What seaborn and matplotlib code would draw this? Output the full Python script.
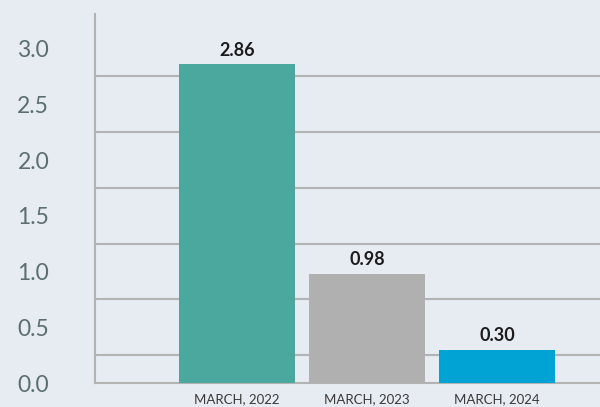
import matplotlib
matplotlib.use("Agg")
import matplotlib.pyplot as plt
import seaborn as sns
import pandas as pd
import numpy as np
from matplotlib.ticker import FixedLocator

categories = ["MARCH, 2022", "MARCH, 2023", "MARCH, 2024"]
values = [2.86, 0.98, 0.30]
colors = ["#4aa89f", "#afb0af", "#00a3d4"]
y_ticks = [0.0, 0.5, 1.0, 1.5, 2.0, 2.5, 3.0]
y_tick_labels = ["0.0", "0.5", "1.0", "1.5", "2.0", "2.5", "3.0"]
grid_positions = [0.25, 0.75, 1.25, 1.75, 2.25, 2.75]

bg = "#e7ebf2"
sns.set_theme(style="white")
plt.rcParams['font.family'] = ['Lato', 'DejaVu Sans']

df = pd.DataFrame({"cat": categories, "val": values})

fig = plt.figure(figsize=(6, 4.07), dpi=100, facecolor=bg)
ax = fig.add_axes([95/600, 24/407, 505/600, 369/407])
ax.set_facecolor(bg)

sns.barplot(data=df, x="cat", y="val", hue="cat", palette=colors, legend=False,
            width=0.89, saturation=1, linewidth=0, edgecolor="none", ax=ax, zorder=3)

ax.set_xlim(-1.092, 2.79)
ax.set_ylim(0, 3.31)
ax.set_xlabel("")
ax.set_ylabel("")

ax.set_yticks(y_ticks)
ax.set_yticklabels(y_tick_labels)
ax.yaxis.set_minor_locator(FixedLocator(grid_positions))
for g in grid_positions:
    ax.axhline(g, color="#b3b3b3", lw=1.5, zorder=1)

ax.tick_params(axis="y", which="both", length=0, pad=33, labelsize=16.5, labelcolor="#5b6f70")
ax.tick_params(axis="x", length=0, pad=7, labelsize=9.5, labelcolor="#3a3a3a")

for s in ["top", "right"]:
    ax.spines[s].set_visible(False)
for s in ["left", "bottom"]:
    ax.spines[s].set_color("#b3b3b3")
    ax.spines[s].set_linewidth(1.5)

for c in ax.containers:
    ax.bar_label(c, fmt="%.2f", padding=4, fontsize=13, fontweight="bold", color="#1c1c1c")

fig.savefig("out.png", dpi=100, facecolor=bg)
